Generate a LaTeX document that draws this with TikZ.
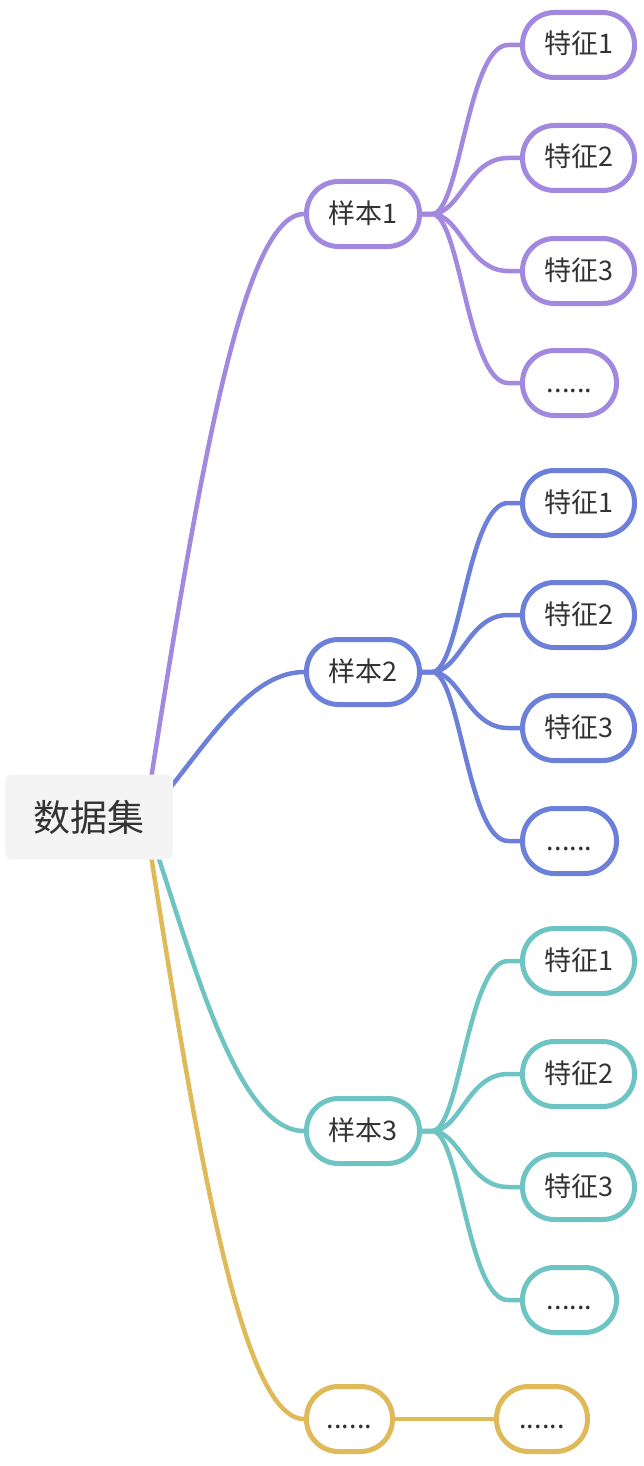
\documentclass[tikz,border=0pt]{standalone}
\usepackage{fontspec}
\newfontfamily\cjk{Noto Sans CJK SC}
\usepackage{tikz}
\usetikzlibrary{backgrounds}
\definecolor{lilac}{RGB}{162,136,222}
\definecolor{cobalt}{RGB}{108,128,218}
\definecolor{aqua}{RGB}{110,196,194}
\definecolor{mustard}{RGB}{224,185,88}
\definecolor{rootgray}{RGB}{244,244,245}
\definecolor{ink}{RGB}{51,51,51}

\begin{document}
\begin{tikzpicture}[x=1pt, y=-1pt]
  \tikzstyle{rootbox} = [rectangle, fill=rootgray, rounded corners=7pt, minimum width=168pt, minimum height=85pt, font=\cjk\fontsize{37}{37}\selectfont, text=ink]
  \tikzstyle{pill} = [rectangle, fill=white, line width=5pt, rounded corners=32pt, minimum height=65pt, inner xsep=0pt, text height=22pt, text depth=4pt, anchor=west, font=\cjk\fontsize{27}{27}\selectfont, text=ink]
  \tikzstyle{link} = [line width=4.5pt, line cap=round]

  \useasboundingbox (0,0) rectangle (644,1466);

  % Root
  \node [rootbox] (root) at (89, 817) {数据集};
  \coordinate (hub) at (145, 817);

  % Column 1: Samples
  \node [pill, draw=lilac, minimum width=113pt] (s1) at (304, 214) {样本1};
  \node [pill, draw=cobalt, minimum width=113pt] (s2) at (304, 672) {样本2};
  \node [pill, draw=aqua, minimum width=113pt] (s3) at (304, 1131) {样本3};
  \node [pill, draw=mustard, minimum width=86pt] (s4) at (304, 1419) {......};

  % Column 2: Features of sample 1
  \node [pill, draw=lilac, minimum width=112pt] (f11) at (520, 45) {特征1};
  \node [pill, draw=lilac, minimum width=112pt] (f12) at (520, 158) {特征2};
  \node [pill, draw=lilac, minimum width=112pt] (f13) at (520, 271) {特征3};
  \node [pill, draw=lilac, minimum width=94pt] (f14) at (520, 383) {......};

  % Column 2: Features of sample 2
  \node [pill, draw=cobalt, minimum width=112pt] (f21) at (520, 503) {特征1};
  \node [pill, draw=cobalt, minimum width=112pt] (f22) at (520, 615) {特征2};
  \node [pill, draw=cobalt, minimum width=112pt] (f23) at (520, 728) {特征3};
  \node [pill, draw=cobalt, minimum width=94pt] (f24) at (520, 841) {......};

  % Column 2: Features of sample 3
  \node [pill, draw=aqua, minimum width=112pt] (f31) at (520, 961) {特征1};
  \node [pill, draw=aqua, minimum width=112pt] (f32) at (520, 1074) {特征2};
  \node [pill, draw=aqua, minimum width=112pt] (f33) at (520, 1187) {特征3};
  \node [pill, draw=aqua, minimum width=94pt] (f34) at (520, 1300) {......};

  % Column 2: the last branch
  \node [pill, draw=mustard, minimum width=91pt] (f41) at (494, 1419) {......};

  \begin{scope}[on background layer]
    % Root to samples
    \draw[link, lilac] (hub) .. controls +(50,-317) and +(-64,0) .. (s1.west);
    \draw[link, cobalt] (hub) .. controls +(50,-52) and +(-62,0) .. (s2.west);
    \draw[link, aqua] (hub) .. controls +(45,130) and +(-70,0) .. (s3.west);
    \draw[link, mustard] (hub) .. controls +(50,320) and +(-64,0) .. (s4.west);

    % Sample 1 to features
    \draw[link, lilac] (s1.east) -- ++(10,0) .. controls +(28,0) and +(-40,0) .. ([xshift=-12pt]f11.west) -- (f11.west);
    \draw[link, lilac] (s1.east) -- ++(10,0) .. controls +(28,0) and +(-40,0) .. ([xshift=-12pt]f12.west) -- (f12.west);
    \draw[link, lilac] (s1.east) -- ++(10,0) .. controls +(28,0) and +(-40,0) .. ([xshift=-12pt]f13.west) -- (f13.west);
    \draw[link, lilac] (s1.east) -- ++(10,0) .. controls +(28,0) and +(-40,0) .. ([xshift=-12pt]f14.west) -- (f14.west);

    % Sample 2 to features
    \draw[link, cobalt] (s2.east) -- ++(10,0) .. controls +(28,0) and +(-40,0) .. ([xshift=-12pt]f21.west) -- (f21.west);
    \draw[link, cobalt] (s2.east) -- ++(10,0) .. controls +(28,0) and +(-40,0) .. ([xshift=-12pt]f22.west) -- (f22.west);
    \draw[link, cobalt] (s2.east) -- ++(10,0) .. controls +(28,0) and +(-40,0) .. ([xshift=-12pt]f23.west) -- (f23.west);
    \draw[link, cobalt] (s2.east) -- ++(10,0) .. controls +(28,0) and +(-40,0) .. ([xshift=-12pt]f24.west) -- (f24.west);

    % Sample 3 to features
    \draw[link, aqua] (s3.east) -- ++(10,0) .. controls +(28,0) and +(-40,0) .. ([xshift=-12pt]f31.west) -- (f31.west);
    \draw[link, aqua] (s3.east) -- ++(10,0) .. controls +(28,0) and +(-40,0) .. ([xshift=-12pt]f32.west) -- (f32.west);
    \draw[link, aqua] (s3.east) -- ++(10,0) .. controls +(28,0) and +(-40,0) .. ([xshift=-12pt]f33.west) -- (f33.west);
    \draw[link, aqua] (s3.east) -- ++(10,0) .. controls +(28,0) and +(-40,0) .. ([xshift=-12pt]f34.west) -- (f34.west);

    % Last branch
    \draw[link, mustard] (s4.east) -- (f41.west);
  \end{scope}
\end{tikzpicture}
\end{document}
